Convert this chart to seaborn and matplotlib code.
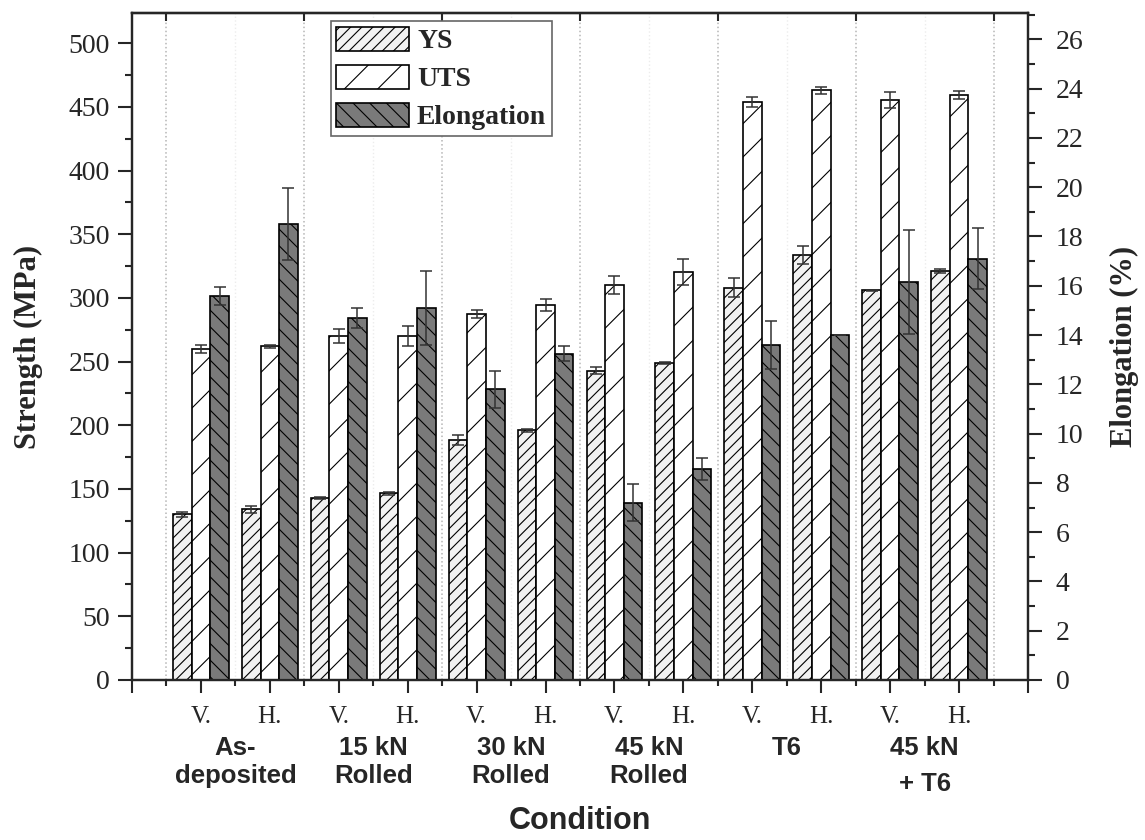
import numpy as np
import pandas as pd
import seaborn as sns
import matplotlib.pyplot as plt
import matplotlib.transforms as mtransforms
from matplotlib.patches import Patch
from matplotlib.ticker import MultipleLocator, FixedLocator

# ---- data ----
conditions = ["As-\ndeposited", "15 kN\nRolled", "30 kN\nRolled", "45 kN\nRolled", "T6", "45 kN\n+ T6"]
orients = ["V.", "H."]
props = ["YS", "UTS", "Elongation"]

ys = [130, 134, 143, 146.5, 188.5, 196, 243, 249, 308, 334, 306, 321]
ys_err = [2, 3, 1, 1.5, 4, 1, 2.8, 0.5, 7.5, 7, 0.5, 1.5]
uts = [260, 262, 270, 270, 287.5, 294.5, 310.5, 320.5, 454, 463, 455.5, 459.5]
uts_err = [3, 1, 5.5, 8, 3, 5, 7, 10, 4, 3, 6, 3]
elong = [15.6, 18.5, 14.7, 15.1, 11.8, 13.25, 7.2, 8.55, 13.6, 14.0, 16.15, 17.1]
elong_err = [0.37, 1.45, 0.4, 1.5, 0.75, 0.3, 0.74, 0.45, 0.97, 0.0, 2.1, 1.23]

samples = [f"{c}|{o}" for c in conditions for o in orients]

rows = []
for i, s in enumerate(samples):
    rows.append({"sample": s, "prop": "YS", "strength": ys[i], "elong": np.nan})
    rows.append({"sample": s, "prop": "UTS", "strength": uts[i], "elong": np.nan})
    rows.append({"sample": s, "prop": "Elongation", "strength": np.nan, "elong": elong[i]})
df = pd.DataFrame(rows)

colors = {"YS": "#f2f2f2", "UTS": "white", "Elongation": "#7a7a7a"}
hatches = {"YS": "///", "UTS": "/", "Elongation": "\\\\"}

sns.set_style("ticks")
plt.rcParams["font.family"] = ["Liberation Serif", "DejaVu Serif"]
plt.rcParams["hatch.linewidth"] = 0.8
plt.rcParams["hatch.color"] = "black"

fig = plt.figure(figsize=(11.45, 8.4), dpi=100)
ax = fig.add_axes([0.1153, 0.1905, 0.7825, 0.794])
ax2 = ax.twinx()

sns.barplot(data=df, x="sample", y="strength", hue="prop", order=samples, hue_order=props,
            palette=colors, saturation=1, width=0.81, errorbar=None, edgecolor="black",
            linewidth=1.2, legend=False, ax=ax, zorder=2)
sns.barplot(data=df, x="sample", y="elong", hue="prop", order=samples, hue_order=props,
            palette=colors, saturation=1, width=0.81, errorbar=None, edgecolor="black",
            linewidth=1.2, legend=False, ax=ax2, zorder=2)

str_conts = [c for c in ax.containers if len(c)]
el_cont = [c for c in ax2.containers if len(c)][0]

for cont, p in zip(str_conts, ["YS", "UTS"]):
    for b in cont:
        b.set_hatch(hatches[p])
for b in el_cont:
    b.set_hatch(hatches["Elongation"])

ekw = dict(fmt="none", ecolor="#333333", elinewidth=1.1, capsize=4.5, capthick=1.1, zorder=4)
for cont, err in zip(str_conts, [ys_err, uts_err]):
    xs = [b.get_x() + b.get_width() / 2 for b in cont]
    hs = [b.get_height() for b in cont]
    ax.errorbar(xs, hs, yerr=err, **ekw)
ax2.errorbar([b.get_x() + b.get_width() / 2 for b in el_cont], [b.get_height() for b in el_cont],
             yerr=elong_err, **ekw)

# axes limits / ticks
ax.set_xlim(-1, 12)
ax.set_ylim(0, 523.8)
ax2.set_ylim(0, 27.07)
ax.yaxis.set_major_locator(MultipleLocator(50))
ax.yaxis.set_minor_locator(MultipleLocator(25))
ax2.yaxis.set_major_locator(MultipleLocator(2))
ax2.yaxis.set_minor_locator(MultipleLocator(1))

ax.set_xticks(range(-1, 13))
ax.set_xticklabels([""] + orients * 6 + [""], fontsize=18)
ax.xaxis.set_minor_locator(FixedLocator(np.arange(-0.5, 12, 1.0)))
ax.tick_params(axis="x", which="major", length=9, width=1.5, direction="out", pad=10, top=False)
ax.tick_params(axis="x", which="minor", length=4.5, width=1.5, direction="out", top=False)
ax.tick_params(axis="y", which="major", length=10, width=1.5, labelsize=20, pad=6)
ax.tick_params(axis="y", which="minor", length=5, width=1.5)
ax2.tick_params(axis="y", which="major", length=10, width=1.5, labelsize=20, pad=10)
ax2.tick_params(axis="y", which="minor", length=5, width=1.5)

bounds = np.arange(-0.5, 12, 2.0)
sec = ax.secondary_xaxis("top")
sec.set_xticks(bounds)
sec.set_xticklabels([""] * len(bounds))
sec.tick_params(direction="in", length=6, width=1.5)
sec.xaxis.set_minor_locator(FixedLocator([]))

# faint separators
ax.grid(False)
ax2.grid(False)
for xv in np.arange(0.5, 12, 2.0):
    ax.axvline(xv, color="#ececec", ls=":", lw=1, zorder=0)
for xv in bounds:
    ax.axvline(xv, color="#b5b5b5", ls=":", lw=1.1, zorder=0)

for a in (ax, ax2):
    for sp in a.spines.values():
        sp.set_linewidth(1.6)
        sp.set_visible(True)
for sp in sec.spines.values():
    sp.set_linewidth(1.6)

ax.set_ylabel("Strength (MPa)", fontsize=22, fontweight="bold", labelpad=18)
ax2.set_ylabel("Elongation (%)", fontsize=22, fontweight="bold", labelpad=19)
ax.set_xlabel("Condition", fontsize=22, fontweight="bold", family=["Liberation Sans", "DejaVu Sans"],
              labelpad=56)

trans = mtransforms.blended_transform_factory(ax.transData, ax.transAxes)
for g, c in enumerate(conditions):
    ax.text(2 * g + 0.5, -0.084, c, transform=trans, ha="center", va="top", fontsize=18.5,
            fontweight="bold", family=["Liberation Sans", "DejaVu Sans"],
            linespacing=1.65 if c.startswith("45 kN\n+") else 1.22)

handles = [Patch(facecolor=colors[p], edgecolor="black", hatch=hatches[p], linewidth=1.2) for p in props]
leg = ax2.legend(handles, props, loc="upper left", bbox_to_anchor=(0.222, 0.988), borderaxespad=0,
                 fancybox=False, edgecolor="#666666", framealpha=1,
                 prop={"family": "Liberation Serif", "weight": "bold", "size": 20},
                 handlelength=2.6, handleheight=0.95, labelspacing=0.38, handletextpad=0.3,
                 borderpad=0.2)
leg.get_frame().set_linewidth(1.2)

fig.savefig("out.png", dpi=100)
